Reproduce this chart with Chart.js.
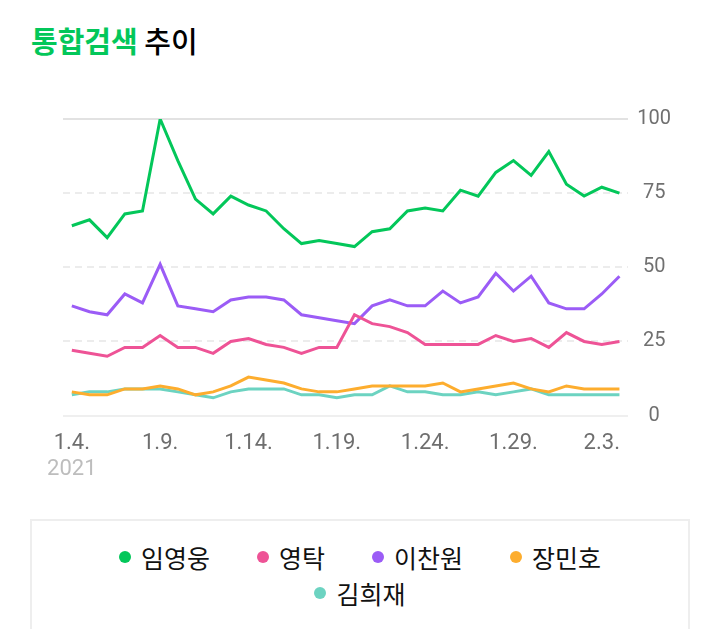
<!DOCTYPE html>
<html>
<head>
<meta charset="utf-8">
<script src="https://cdn.jsdelivr.net/npm/chart.js@4"></script>
<style>
    body { margin: 0; background: #fff; }
    #wrap { position: relative; width: 720px; height: 629px; overflow: hidden; }
    #title {
        position: absolute; left: 31px; top: 20px;
        font-family: 'Noto Sans CJK KR', sans-serif; font-size: 29px; line-height: 40px;
        color: #000;
    }
    #title b { color: #03c75a; font-weight: 700; }
    #title span { font-weight: 500; }
    #chart-box { position: absolute; left: 0; top: 0; width: 720px; height: 500px; }
    #legend {
        position: absolute; left: 30px; top: 519px; width: 540px; height: 200px;
        border: 2px solid #eeeeee; padding: 18px 58px 0 58px;
        display: flex; flex-wrap: wrap; justify-content: center; align-content: flex-start;
        column-gap: 47px;
        font-family: 'Noto Sans CJK KR', sans-serif; font-size: 25px; line-height: 36px; color: #111;
    }
    .item { display: flex; align-items: center; white-space: nowrap; }
    .dot { width: 12px; height: 12px; border-radius: 50%; margin-right: 10px; }
</style>
</head>
<body>
<div id="wrap">
    <div id="title"><b>통합검색</b> <span>추이</span></div>
    <div id="chart-box"><canvas id="line-chart"></canvas></div>
    <div id="legend"></div>
</div>
<script>
const labels = [
    '1.4.', '1.5.', '1.6.', '1.7.', '1.8.', '1.9.', '1.10.', '1.11.', '1.12.', '1.13.',
    '1.14.', '1.15.', '1.16.', '1.17.', '1.18.', '1.19.', '1.20.', '1.21.', '1.22.', '1.23.',
    '1.24.', '1.25.', '1.26.', '1.27.', '1.28.', '1.29.', '1.30.', '1.31.', '2.1.', '2.2.',
    '2.3.', '2.4.'
]
const yearLabel = '2021'
const names = ['임영웅', '영탁', '이찬원', '장민호', '김희재']
const colors = ['#03c75a', '#ee5396', '#9b5cf6', '#fdad2e', '#6cd3c1']

const limYoungwoong = [64, 66, 60, 68, 69, 100, 86, 73, 68, 74, 71, 69, 63, 58, 59, 58, 57, 62, 63, 69, 70, 69, 76, 74, 82, 86, 81, 89, 78, 74, 77, 75]
const youngtak = [22, 21, 20, 23, 23, 27, 23, 23, 21, 25, 26, 24, 23, 21, 23, 23, 34, 31, 30, 28, 24, 24, 24, 24, 27, 25, 26, 23, 28, 25, 24, 25]
const leeChanwon = [37, 35, 34, 41, 38, 51, 37, 36, 35, 39, 40, 40, 39, 34, 33, 32, 31, 37, 39, 37, 37, 42, 38, 40, 48, 42, 47, 38, 36, 36, 41, 47]
const jangMinho = [8, 7, 7, 9, 9, 10, 9, 7, 8, 10, 13, 12, 11, 9, 8, 8, 9, 10, 10, 10, 10, 11, 8, 9, 10, 11, 9, 8, 10, 9, 9, 9]
const kimHeejae = [7, 8, 8, 9, 9, 9, 8, 7, 6, 8, 9, 9, 9, 7, 7, 6, 7, 7, 10, 8, 8, 7, 7, 8, 7, 8, 9, 7, 7, 7, 7, 7]
const yTicks = [0, 25, 50, 75, 100]

const series = [limYoungwoong, youngtak, leeChanwon, jangMinho, kimHeejae]

const datasets = series.map((values, i) => ({
    label: names[i],
    data: values,
    borderColor: colors[i],
    backgroundColor: colors[i],
    borderWidth: 3,
    pointRadius: 0,
    pointHoverRadius: 0,
    tension: 0,
    fill: false
}))

// year under the first date label
const yearPlugin = {
    id: 'year',
    afterDraw(chart) {
        const ctx = chart.ctx
        const xs = chart.scales.x
        ctx.save()
        ctx.font = '22px Roboto'
        ctx.fillStyle = '#bdbdbd'
        ctx.textAlign = 'center'
        ctx.textBaseline = 'middle'
        ctx.fillText(yearLabel, xs.getPixelForTick(0), 469)
        ctx.restore()
    }
}

const config = {
    type: 'line',
    data: { labels: labels, datasets: datasets },
    options: {
        responsive: true,
        maintainAspectRatio: false,
        animation: false,
        layout: { padding: { top: 119, left: 63, right: 40, bottom: 36 } },
        plugins: { legend: { display: false }, tooltip: { enabled: false } },
        scales: {
            x: {
                offset: true,
                grid: { display: false },
                border: { display: false },
                ticks: {
                    autoSkip: false,
                    maxRotation: 0,
                    padding: 7,
                    color: '#6e6e6e',
                    font: { family: 'Roboto', size: 22 },
                    callback: function (val, index) {
                        return index % 5 === 0 ? this.getLabelForValue(val) : ''
                    }
                }
            },
            y: {
                position: 'right',
                min: 0,
                max: 100,
                afterBuildTicks: axis => { axis.ticks = yTicks.map(v => ({ value: v })) },
                grid: {
                    drawTicks: false,
                    lineWidth: 2,
                    color: ctx => ctx.tick.value === 100 ? '#e2e2e2' : (ctx.tick.value === 0 ? '#efefef' : '#ececec')
                },
                border: {
                    display: false,
                    dash: ctx => (ctx.tick && (ctx.tick.value === 0 || ctx.tick.value === 100)) ? [] : [7, 5]
                },
                ticks: {
                    padding: 9,
                    crossAlign: 'center',
                    color: '#707070',
                    font: { family: 'Roboto', size: 20 }
                }
            }
        }
    },
    plugins: [yearPlugin]
}

const myChart = new Chart(document.getElementById('line-chart'), config)

// legend from the datasets
const legendBox = document.getElementById('legend')
myChart.data.datasets.forEach(d => {
    const item = document.createElement('div')
    item.className = 'item'
    item.innerHTML = '<span class="dot" style="background:' + d.borderColor + '"></span>' + d.label
    legendBox.appendChild(item)
})
</script>
</body>
</html>
